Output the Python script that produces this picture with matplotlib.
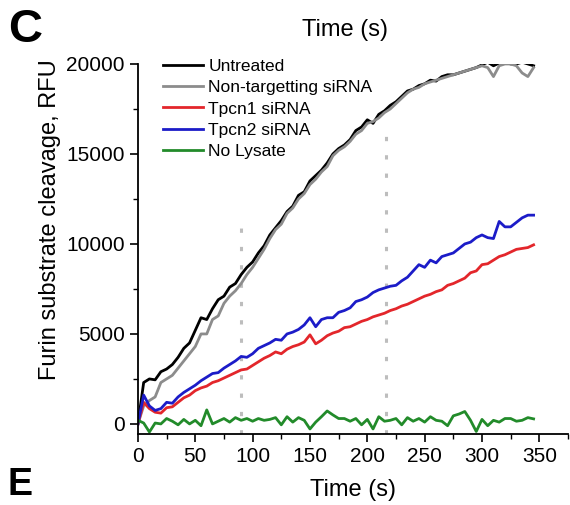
import numpy as np
import matplotlib
matplotlib.use("Agg")
import matplotlib.pyplot as plt
from matplotlib.ticker import MultipleLocator

plt.rcParams['font.family'] = ['Liberation Sans', 'DejaVu Sans']

# time points (s), one reading every 5 s
time = np.arange(0, 350, 5)

untreated = [0, 2300, 2500, 2450, 2900, 3050, 3300, 3700, 4200, 4500,
             5200, 5900, 5800, 6400, 6900, 7100, 7600, 7800, 8300, 8700,
             9000, 9500, 9900, 10500, 10900, 11300, 11800, 12100, 12700, 12900,
             13500, 13800, 14100, 14500, 15000, 15300, 15500, 15800, 16300, 16500,
             16900, 16700, 17200, 17400, 17700, 17900, 18200, 18500, 18600, 18800,
             18900, 19100, 19050, 19300, 19400, 19400, 19500, 19600, 19700, 19800,
             19950, 20100, 19900, 20050, 20100, 20000, 20000, 20100, 20000, 19900]

non_targeting = [0, 1000, 1300, 1500, 2300, 2500, 2700, 3100, 3500, 3900,
                 4300, 5000, 5000, 5800, 6000, 6700, 7100, 7400, 7800, 8300,
                 8700, 9200, 9700, 10300, 10800, 11100, 11700, 12000, 12500, 12800,
                 13300, 13600, 14000, 14300, 14900, 15200, 15400, 15700, 16100, 16300,
                 16700, 16800, 17000, 17300, 17500, 17800, 18100, 18400, 18600, 18700,
                 18900, 19000, 19100, 19200, 19300, 19400, 19500, 19600, 19700, 19800,
                 19900, 19800, 19300, 19900, 20000, 20000, 19900, 19500, 19300, 19800]

tpcn1 = [0, 1200, 850, 650, 600, 900, 950, 1200, 1450, 1600,
         1850, 2000, 2100, 2300, 2400, 2550, 2700, 2850, 3000, 3050,
         3250, 3450, 3650, 3800, 4000, 3900, 4150, 4300, 4400, 4550,
         4950, 4450, 4650, 4900, 5050, 5150, 5350, 5400, 5550, 5700,
         5800, 5950, 6050, 6150, 6300, 6400, 6550, 6650, 6800, 6950,
         7100, 7200, 7350, 7450, 7700, 7800, 7950, 8100, 8400, 8500,
         8850, 8900, 9100, 9300, 9400, 9550, 9700, 9750, 9800, 9950]

tpcn2 = [0, 1600, 1000, 750, 850, 1200, 1150, 1500, 1750, 1950,
         2150, 2400, 2600, 2800, 2850, 3100, 3300, 3500, 3750, 3700,
         3900, 4200, 4350, 4500, 4700, 4650, 5000, 5100, 5250, 5500,
         5900, 5400, 5800, 5900, 5900, 6200, 6300, 6450, 6800, 6900,
         7050, 7300, 7450, 7550, 7650, 7700, 7950, 8150, 8500, 8850,
         8700, 9100, 8950, 9300, 9400, 9500, 9750, 10000, 10100, 10350,
         10500, 10350, 10300, 11250, 10950, 10950, 11200, 11450, 11600, 11600]

no_lysate = [200, 50, -450, 50, 0, 300, 150, -50, 250, 0,
             200, -100, 780, 0, 150, 300, 100, 350, 200, 300,
             150, 300, 200, 250, 350, -50, 400, 100, 350, 200,
             -280, 100, 400, 720, 500, 300, 300, 150, 300, -50,
             250, -280, 400, 150, 200, 300, -50, 350, 150, 300,
             100, 400, 200, 150, -100, 450, 550, 690, 200, -420,
             250, -100, 200, 100, 300, 300, 150, 200, 350, 280]

labels = ["Untreated", "Non-targetting siRNA", "Tpcn1 siRNA", "Tpcn2 siRNA", "No Lysate"]
colors = ["#000000", "#8c8c8c", "#e3262b", "#1c1cc8", "#228b2a"]

# dotted markers: (time, top value)
marker_t = [90, 216]
marker_top = [10950, 16250]

fig = plt.figure(figsize=(5.7, 5.05), dpi=100)
ax = fig.add_axes([0.242, 0.1406, 0.7545, 0.7327])

for t, top in zip(marker_t, marker_top):
    ax.plot([t, t], [-560, top], color="#bdbdbd", lw=2.2,
            dashes=(1.4, 4.6), zorder=1)

series = [untreated, non_targeting, tpcn1, tpcn2, no_lysate]
for y, lab, c in zip(series, labels, colors):
    ax.plot(time, y, color=c, lw=2.0, label=lab, zorder=2)

ax.set_xlim(0, 375)
ax.set_ylim(-560, 20000)
ax.spines['top'].set_visible(False)
ax.spines['right'].set_visible(False)
ax.spines['left'].set_linewidth(1.3)
ax.spines['bottom'].set_linewidth(1.3)

ax.set_xticks(np.arange(0, 351, 50))
ax.set_yticks(np.arange(0, 20001, 5000))
ax.xaxis.set_minor_locator(MultipleLocator(25))
ax.yaxis.set_minor_locator(MultipleLocator(2500))
ax.tick_params(which='major', direction='out', length=6, width=1.2, labelsize=15)
ax.tick_params(which='minor', direction='out', length=3.5, width=1.0)

fig.legend(loc='upper left', bbox_to_anchor=(0.286, 0.884), frameon=False,
           fontsize=12.5, handlelength=2.3, handletextpad=0.3,
           labelspacing=0.36, borderpad=0, borderaxespad=0)

fig.text(345 / 570, 1 - 30 / 505, "Time (s)", fontsize=17, ha='center', va='center')
fig.text(353 / 570, 1 - 490 / 505, "Time (s)", fontsize=17, ha='center', va='center')
fig.text(50 / 570, 1 - 220 / 505, "Furin substrate cleavage, RFU", fontsize=17,
         rotation=90, ha='center', va='center')
fig.text(8 / 570, 1 - 8 / 505, "C", fontsize=34, fontweight='bold', ha='left', va='top')
fig.text(8 / 570, 2 / 505, "E", fontsize=27, fontweight='bold', ha='left', va='bottom')

fig.savefig("out.png", dpi=100)
